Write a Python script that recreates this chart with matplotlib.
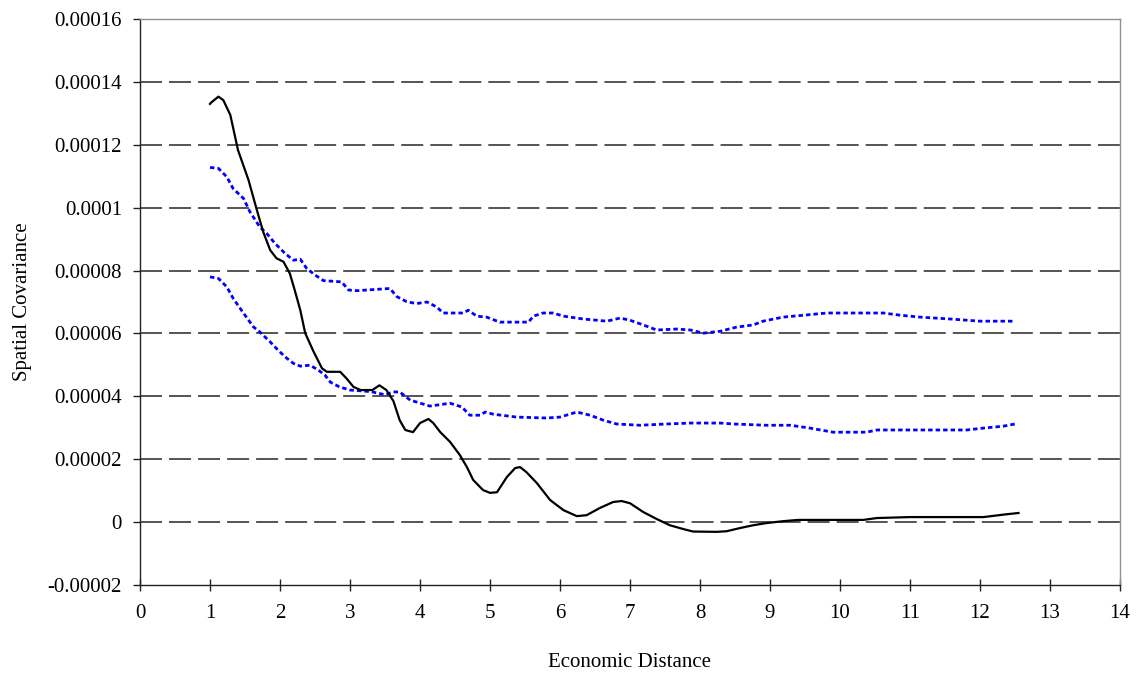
import numpy as np
import matplotlib
matplotlib.use('Agg')
import matplotlib.pyplot as plt

## covariance curve and its upper/lower bands, by economic distance
cov_dist = [1.0, 1.02, 1.12, 1.19, 1.29, 1.40, 1.55, 1.67, 1.76, 1.86, 1.95, 2.05, 2.14, 2.21,
            2.29, 2.36, 2.48, 2.60, 2.67, 2.86, 2.95, 3.05, 3.15, 3.32, 3.42, 3.52, 3.62, 3.71,
            3.79, 3.90, 4.0, 4.12, 4.19, 4.29, 4.43, 4.57, 4.67, 4.76, 4.90, 5.0, 5.1, 5.24,
            5.36, 5.43, 5.52, 5.67, 5.86, 6.05, 6.24, 6.38, 6.57, 6.76, 6.88, 7.0, 7.19, 7.38,
            7.57, 7.76, 7.90, 8.24, 8.38, 8.57, 8.76, 8.95, 9.19, 9.40, 10.33, 10.53, 11.0,
            12.05, 12.38, 12.55]
cov_val = [13.3, 13.35, 13.53, 13.42, 12.95, 11.83, 10.88, 9.92, 9.23, 8.65, 8.39, 8.28, 7.91,
           7.38, 6.74, 6.01, 5.42, 4.89, 4.78, 4.78, 4.57, 4.3, 4.2, 4.2, 4.35, 4.2, 3.85, 3.24,
           2.93, 2.86, 3.15, 3.28, 3.15, 2.86, 2.55, 2.13, 1.75, 1.34, 1.02, 0.93, 0.95, 1.43,
           1.72, 1.75, 1.59, 1.24, 0.70, 0.38, 0.19, 0.22, 0.45, 0.64, 0.67, 0.60, 0.32, 0.10,
           -0.10, -0.22, -0.30, -0.31, -0.29, -0.19, -0.10, -0.03, 0.03, 0.07, 0.07, 0.13, 0.16,
           0.16, 0.25, 0.29]

upper_dist = [1.0, 1.12, 1.24, 1.33, 1.48, 1.57, 1.71, 1.81, 1.93, 2.07, 2.19, 2.29, 2.38, 2.5,
              2.62, 2.88, 2.98, 3.1, 3.57, 3.67, 3.81, 3.95, 4.1, 4.24, 4.33, 4.62, 4.69, 4.81,
              4.95, 5.14, 5.55, 5.62, 5.76, 5.90, 6.05, 6.33, 6.67, 6.86, 7.0, 7.19, 7.38, 7.67,
              7.86, 8.05, 8.29, 8.52, 8.76, 8.90, 9.19, 9.48, 9.81, 10.62, 10.86, 11.14, 11.57,
              12.0, 12.5]
upper_val = [11.28, 11.25, 10.98, 10.61, 10.29, 9.87, 9.39, 9.18, 8.86, 8.55, 8.33, 8.36, 8.07,
             7.86, 7.68, 7.64, 7.38, 7.36, 7.43, 7.17, 7.01, 6.95, 7.0, 6.84, 6.65, 6.65, 6.74,
             6.55, 6.52, 6.36, 6.36, 6.55, 6.65, 6.65, 6.55, 6.46, 6.39, 6.49, 6.42, 6.27, 6.11,
             6.14, 6.11, 6.01, 6.07, 6.20, 6.27, 6.39, 6.52, 6.58, 6.65, 6.65, 6.58, 6.52, 6.46,
             6.39, 6.39]

lower_dist = [1.0, 1.12, 1.24, 1.33, 1.48, 1.62, 1.71, 1.86, 1.95, 2.07, 2.19, 2.29, 2.43, 2.55,
              2.64, 2.72, 2.85, 3.0, 3.3, 3.5, 3.62, 3.71, 3.86, 4.14, 4.43, 4.60, 4.71, 4.86,
              4.93, 5.05, 5.38, 5.81, 6.0, 6.24, 6.43, 6.62, 6.81, 7.14, 7.52, 7.86, 8.1, 8.29,
              8.48, 8.95, 9.29, 9.57, 9.90, 10.38, 10.53, 11.81, 12.05, 12.33, 12.5]
lower_val = [7.80, 7.75, 7.48, 7.12, 6.64, 6.21, 6.05, 5.73, 5.52, 5.26, 5.05, 4.96, 4.99, 4.83,
             4.68, 4.45, 4.3, 4.2, 4.15, 4.05, 4.14, 4.14, 3.88, 3.69, 3.78, 3.66, 3.40, 3.40,
             3.50, 3.43, 3.34, 3.31, 3.34, 3.50, 3.40, 3.24, 3.12, 3.08, 3.12, 3.15, 3.15, 3.15,
             3.12, 3.08, 3.08, 2.99, 2.86, 2.86, 2.93, 2.93, 2.99, 3.05, 3.12]

scale = 1e-5  # values above are in units of 0.00001

y_ticks = [-0.00002, 0, 0.00002, 0.00004, 0.00006, 0.00008, 0.0001, 0.00012, 0.00014, 0.00016]
y_tick_labels = ['-0.00002', '0', '0.00002', '0.00004', '0.00006', '0.00008', '0.0001',
                 '0.00012', '0.00014', '0.00016']
x_ticks = list(range(0, 15))

plt.rcParams['font.family'] = ['Liberation Serif', 'DejaVu Serif']

fig = plt.figure(figsize=(11.36, 6.75), dpi=100)
ax = fig.add_axes([140 / 1136, 90 / 675, 980 / 1136, 566 / 675])

# dashed horizontal gridlines at every y tick except the bottom one
for yv in y_ticks[1:-1]:
    ax.axhline(yv, color='#262626', lw=1.1, linestyle=(0, (14.4, 4.6)), zorder=1)

ax.plot(upper_dist, np.array(upper_val) * scale, color='#0000ff', lw=2.0,
        linestyle=(0, (1.6, 1.1)), zorder=2)
ax.plot(lower_dist, np.array(lower_val) * scale, color='#0000ff', lw=2.0,
        linestyle=(0, (1.6, 1.1)), zorder=2)
ax.plot(cov_dist, np.array(cov_val) * scale, color='black', lw=1.6, zorder=3)

ax.set_xlim(0, 14)
ax.set_ylim(-0.00002, 0.00016)
ax.set_xticks(x_ticks)
ax.set_yticks(y_ticks)
ax.set_yticklabels(y_tick_labels)

ax.spines['top'].set_color('#909090')
ax.spines['right'].set_color('#909090')
ax.spines['left'].set_color('#222222')
ax.spines['bottom'].set_color('#222222')
for s in ax.spines.values():
    s.set_linewidth(1.0)

ax.tick_params(axis='y', direction='out', length=5, width=1.0, color='#222222',
               labelsize=15, pad=8)
ax.tick_params(axis='x', direction='inout', length=9, width=1.0, color='#222222',
               labelsize=15, pad=9)

ax.set_xlabel('Economic Distance', fontsize=15, labelpad=22)
ax.set_ylabel('Spatial Covariance', fontsize=15, labelpad=11)

plt.savefig('out.png', dpi=100)
